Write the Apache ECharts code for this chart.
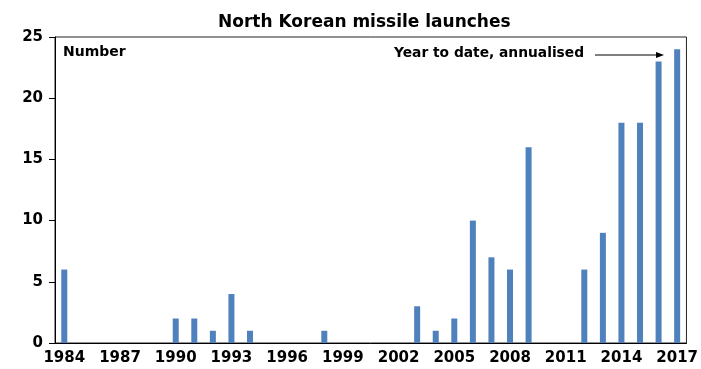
<!DOCTYPE html>
<html>
<head>
<meta charset="utf-8">
<style>
  html, body { margin: 0; padding: 0; background: #fff; }
  #chart { width: 701px; height: 369px; }
</style>
<script src="https://cdn.jsdelivr.net/npm/echarts@6/dist/echarts.min.js"></script>
</head>
<body>
<div id="chart"></div>
<script>
// Launch years, 1984 through 2017
const years = [];
for (let y = 1984; y <= 2017; y++) years.push(String(y));

// Missile launches per year (2017 is year to date, annualised)
const launches = [
  6, 0, 0, 0, 0, 0, 2, 2, 1, 4,
  1, 0, 0, 0, 1, 0, 0, 0, 0, 3,
  1, 2, 10, 7, 6, 16, 0, 0, 6, 9,
  18, 18, 23, 24
];

const yTicks = { min: 0, max: 25, interval: 5 };

const labelFont = 'DejaVu Sans';
const chart = echarts.init(document.getElementById('chart'));

chart.setOption({
  animation: false,
  title: {
    text: 'North Korean missile launches',
    left: 213,
    top: 9,
    textStyle: { fontFamily: labelFont, fontWeight: 'bold', fontSize: 17, color: '#000' }
  },
  grid: {
    left: 55, right: 12, top: 37, bottom: 26,
    show: true, borderColor: '#222', borderWidth: 1
  },
  xAxis: {
    type: 'category',
    data: years,
    boundaryGap: true,
    axisLine: { lineStyle: { color: '#000', width: 1 } },
    axisTick: { interval: 2, length: 5, lineStyle: { color: '#000' } },
    axisLabel: {
      interval: 2, margin: 8,
      fontFamily: labelFont, fontWeight: 'bold', fontSize: 15, color: '#000'
    },
    splitLine: { show: false }
  },
  yAxis: {
    type: 'value',
    min: yTicks.min, max: yTicks.max, interval: yTicks.interval,
    axisLine: { show: true, lineStyle: { color: '#000', width: 1 } },
    axisTick: { show: true, length: 6, lineStyle: { color: '#000' } },
    axisLabel: {
      margin: 12,
      fontFamily: labelFont, fontWeight: 'bold', fontSize: 15, color: '#000'
    },
    splitLine: { show: false }
  },
  series: [{
    type: 'bar',
    data: launches,
    barWidth: 6,
    itemStyle: { color: '#4F81BD' }
  }],
  graphic: [
    {
      type: 'text', left: 63, top: 45,
      style: { text: 'Number', fontFamily: labelFont, fontWeight: 'bold', fontSize: 14, fill: '#000' }
    },
    {
      type: 'text', left: 394, top: 46,
      style: { text: 'Year to date, annualised', fontFamily: labelFont, fontWeight: 'bold', fontSize: 13.8, fill: '#000' }
    },
    {
      type: 'line',
      shape: { x1: 595, y1: 55, x2: 657, y2: 55 },
      style: { stroke: '#000', lineWidth: 1 }
    },
    {
      type: 'polygon',
      shape: { points: [[664, 55], [656, 52], [656, 58]] },
      style: { fill: '#000' }
    }
  ]
});
</script>
</body>
</html>
